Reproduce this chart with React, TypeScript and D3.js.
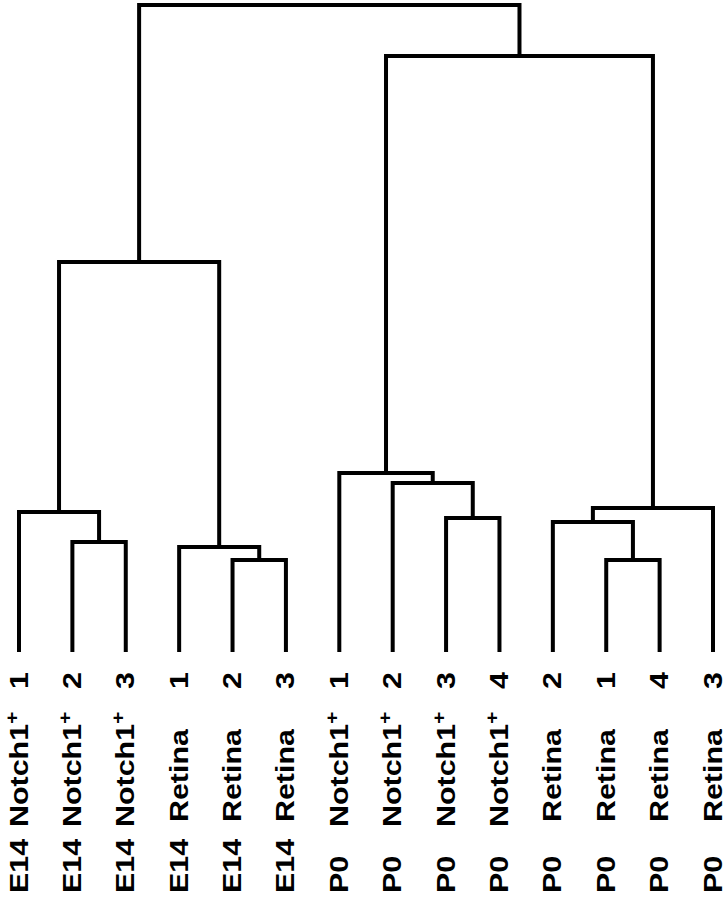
import React from "react";
import * as d3 from "d3";

// Leaf labels (left to right)
const leafPrefix = ["E14", "E14", "E14", "E14", "E14", "E14", "P0", "P0", "P0", "P0", "P0", "P0", "P0", "P0"];
const leafType = ["Notch1", "Notch1", "Notch1", "Retina", "Retina", "Retina", "Notch1", "Notch1", "Notch1", "Notch1", "Retina", "Retina", "Retina", "Retina"];
const leafRep = ["1", "2", "3", "1", "2", "3", "1", "2", "3", "4", "2", "1", "4", "3"];

// Merges: node ids 0..13 are leaves, 14.. are merge results in order
const mergeLeft = [1, 0, 4, 3, 15, 8, 7, 6, 11, 10, 23, 21, 18];
const mergeRight = [2, 14, 5, 16, 17, 9, 19, 20, 12, 22, 13, 24, 25];
const mergeHeight = [110, 140, 92, 105, 390, 134, 169, 179, 92, 130, 144, 596, 647];

const W = 726;
const H = 902;

export default function App() {
  const n = leafPrefix.length;
  const x = d3.scalePoint<number>().domain(d3.range(n)).range([19, 713]);
  const y = d3.scaleLinear().domain([0, 647]).range([652, 5]);

  const pos: { x: number; h: number }[] = [];
  for (let i = 0; i < n; i++) pos.push({ x: x(i) as number, h: 0 });
  const paths: string[] = [];
  mergeLeft.forEach((l, k) => {
    const r = mergeRight[k];
    const h = mergeHeight[k];
    const a = pos[l];
    const b = pos[r];
    const p = d3.path();
    p.moveTo(a.x, y(a.h));
    p.lineTo(a.x, y(h));
    p.lineTo(b.x, y(h));
    p.lineTo(b.x, y(b.h));
    paths.push(p.toString());
    pos.push({ x: (a.x + b.x) / 2, h });
  });

  const stretch = 1.17;
  const fs = 26;
  const font = "'Liberation Sans', Arial, sans-serif";

  return (
    <svg width={W} height={H} style={{ position: "absolute", left: 0, top: 0, background: "#fff" }}>
      <rect width={W} height={H} fill="#fff" />
      <g fill="none" stroke="#000" strokeWidth={4} strokeLinejoin="miter">
        {paths.map((d, i) => (
          <path key={i} d={d} />
        ))}
      </g>
      <g fontFamily={font} fontWeight="bold" fontSize={fs} fill="#000">
        {d3.range(n).map((i) => {
          const bx = (x(i) as number) + 8.5;
          const midStart = leafType[i] === "Notch1" ? 827 : 822;
          return (
            <g key={i}>
              <text transform={`translate(${bx},893) rotate(-90) scale(${stretch},1)`} textAnchor="start">
                {leafPrefix[i]}
              </text>
              <text transform={`translate(${bx},${midStart}) rotate(-90) scale(${stretch},1)`} textAnchor="start">
                {leafType[i]}
                {leafType[i] === "Notch1" ? (
                  <tspan fontSize={18} dy={-10}>+</tspan>
                ) : null}
              </text>
              <text transform={`translate(${bx},672) rotate(-90) scale(${stretch},1)`} textAnchor="end">
                {leafRep[i]}
              </text>
            </g>
          );
        })}
      </g>
    </svg>
  );
}
